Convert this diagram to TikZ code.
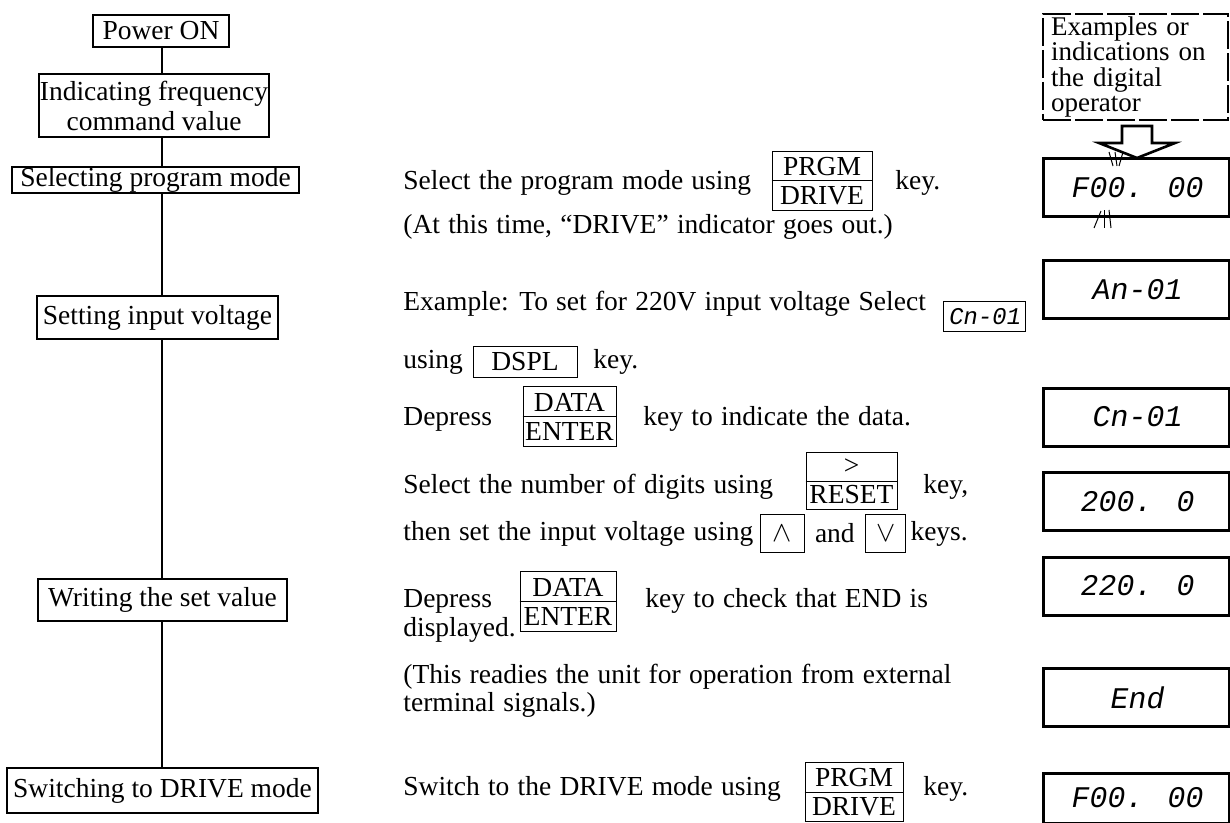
\documentclass[tikz,border=0pt]{standalone}
\usepackage{fontspec}
\setmainfont{Liberation Serif}
\newfontfamily\segfont[FakeSlant=0.18]{Liberation Mono}
\newcommand{\bodyfont}{\fontsize{13.75}{15}\selectfont\spaceskip=0.3em plus 0.1em minus 0.05em\relax}
\begin{document}
\begin{tikzpicture}[x=0.5pt,y=-0.5pt,
  every node/.style={font=\fontsize{13.75}{15}\selectfont, inner sep=0pt},
  flowbox/.style={draw, line width=0.8pt, align=center},
  txt/.style={anchor=base west, font=\bodyfont},
  keybox/.style={draw, line width=0.5pt, align=center, inner ysep=3pt,
    font=\fontsize{13.75}{14.5}\selectfont},
  onekey/.style={draw, line width=0.5pt},
  disp/.style={draw, line width=1.5pt, minimum width=93pt, minimum height=29pt,
    font=\segfont\fontsize{15}{15}\selectfont},
  conn/.style={line width=0.8pt},
  tick/.style={line width=0.5pt}
]
\useasboundingbox (0,0) rectangle (1230,823);

% ---------- left flow column ----------
\coordinate (spine) at (162,0);
\node[flowbox, minimum width=68pt, minimum height=16pt] (power) at (161,31) {Power ON};
\node[flowbox, minimum width=115pt, minimum height=31.5pt] (indic) at (154,105.5) {Indicating frequency\\command value};
\node[flowbox, minimum width=143.5pt, minimum height=13pt] (selmode) at (155.5,180) {Selecting program mode};
\node[flowbox, minimum width=120.5pt, minimum height=21.5pt] (setv) at (157.5,317.5) {Setting input voltage};
\node[flowbox, minimum width=124.5pt, minimum height=21pt] (writev) at (162.5,600) {Writing the set value};
\node[flowbox, minimum width=155.5pt, minimum height=22.5pt] (switchm) at (162.5,790.5) {Switching to DRIVE mode};

\draw[conn] (power.south -| spine) -- (indic.north -| spine);
\draw[conn] (indic.south -| spine) -- (selmode.north -| spine);
\draw[conn] (selmode.south -| spine) -- (setv.north -| spine);
\draw[conn] (setv.south -| spine) -- (writev.north -| spine);
\draw[conn] (writev.south -| spine) -- (switchm.north -| spine);

% ---------- middle instructions ----------
\node[txt] (a1) at (403,190) {Select the program mode using};
\node[keybox, minimum width=50pt] (k1) at (822,181) {PRGM\\DRIVE};
\draw[line width=0.5pt] (k1.west) -- (k1.east);
\node[txt] (a2) at (895,190) {key.};
\node[txt] (b1) at (403,234) {(At this time, ``DRIVE'' indicator goes out.)};

\node[txt] (c1) at (403,311) {Example: To set for 220V input voltage Select};
\node[onekey, minimum width=41pt, minimum height=15pt, font=\segfont\fontsize{12}{12}\selectfont] (cn) at (984,317) {Cn-01};
\node[txt] (d1) at (403,368) {using};
\node[onekey, minimum width=52pt, minimum height=15pt] (dspl) at (525,362) {DSPL};
\node[txt] (d2) at (593,368) {key.};

\node[txt] (e1) at (403,425) {Depress};
\node[keybox, minimum width=46.5pt] (k2) at (569.5,416.5) {DATA\\ENTER};
\draw[line width=0.5pt] (k2.west) -- (k2.east);
\node[txt] (e2) at (643,425) {key to indicate the data.};

\node[txt] (f1) at (403,493) {Select the number of digits using};
\node[keybox, minimum width=45.5pt] (k3) at (851.5,481) {>\\RESET};
\draw[line width=0.5pt] (k3.west) -- (k3.east);
\node[txt] (f2) at (923,493) {key,};

\node[txt] (g1) at (403,540) {then set the input voltage using};
\node[onekey, minimum width=22pt, minimum height=19pt, anchor=west] (up) at ([xshift=3pt]g1.east) {$\wedge$};
\node[txt, anchor=west] (g2) at ([xshift=5pt]up.east |- g1.east) {and};
\node[onekey, minimum width=20pt, minimum height=19pt, anchor=west] (dn) at ([xshift=5pt]g2.east) {$\vee$};
\node[txt, anchor=west] (g3) at ([xshift=2pt]dn.east |- g1.east) {keys.};

\node[txt] (h1) at (403,607) {Depress};
\node[keybox, minimum width=48pt] (k4) at (568,601.5) {DATA\\ENTER};
\draw[line width=0.5pt] (k4.west) -- (k4.east);
\node[txt] (h2) at (645,607) {key to check that END is};
\node[txt] (h3) at (403,636) {displayed.};
\node[txt] (i1) at (403,683) {(This readies the unit for operation from external};
\node[txt] (i2) at (403,711) {terminal signals.)};

\node[txt] (j1) at (403,795) {Switch to the DRIVE mode using};
\node[keybox, minimum width=49pt] (k5) at (854,792) {PRGM\\DRIVE};
\draw[line width=0.5pt] (k5.west) -- (k5.east);
\node[txt] (j2) at (923,795) {key.};

% ---------- right column ----------
\node[draw, line width=0.6pt, dash pattern=on 14pt off 2pt, minimum width=92.5pt, minimum height=53pt,
  text width=84.5pt, align=left, font=\fontsize{13.5}{12.8}\selectfont] (hdr) at (1135.5,67)
  {Examples or\\indications on\\the digital\\operator};

\draw[line width=1.3pt, line join=miter]
  (1122,126) -- (1152,126) -- (1152,143) -- (1175,143) -- (1137,158)
  -- (1099,143) -- (1122,143) -- cycle;

\node[disp] (d1) at (1136,187.5) {F00. 00};
\node[disp] (d2) at (1136,289.5) {An-01};
\node[disp] (d3) at (1136,417) {Cn-01};
\node[disp] (d4) at (1136,501.5) {200. 0};
\node[disp] (d5) at (1136,586) {220. 0};
\node[disp] (d6) at (1136,697.5) {End};
\node[disp, minimum height=25pt] (d7) at (1136,798) {F00. 00};

% blink marks on first display
\draw[tick] (1109,152) -- (1113,166);
\draw[tick] (1115,152) -- (1117,166);
\draw[tick] (1123,152) -- (1119,166);
\draw[tick] (1094,228) -- (1101,211);
\draw[tick] (1104,228) -- (1104,210);
\draw[tick] (1111,228) -- (1109,210);
\end{tikzpicture}
\end{document}
